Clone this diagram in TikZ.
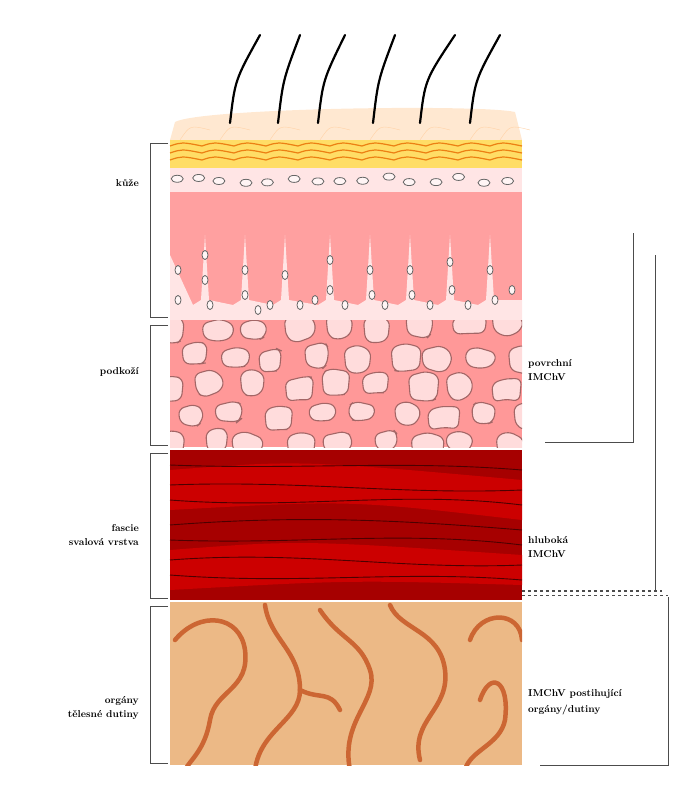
\documentclass[tikz,border=0pt]{standalone}
\usetikzlibrary{calc}
\begin{document}
\begin{tikzpicture}[x=1pt,y=-1pt,
  lbl/.style={font=\bfseries, align=right, anchor=east, inner sep=1pt},
  rlbl/.style={font=\bfseries, align=left, anchor=west, inner sep=1pt},
  brk/.style={draw=black!70, line width=1pt},
  cell/.style={draw=black!60, fill=white!85!pink, line width=0.8pt},
  fat/.style={draw=black!60!red!60, fill=pink!55, line width=1.1pt, rounded corners=6pt}]
\useasboundingbox (0,0) rectangle (697,800);
\pgfmathsetseed{11}
% hair top layer
\fill[orange!18] (170,140) -- (175,122) .. controls (200,108) and (480,104) .. (515,112) -- (522,140) -- cycle;
\foreach \x in {180,220,270,320,370,420,470,500} \draw[orange!35] (\x,140) .. controls (\x+10,125) .. (\x+30,130);
\foreach \x/\t in {230/260,278/300,318/345,373/395,420/455,470/500}
  \draw[line width=2.2pt, line cap=round] (\x,123) .. controls (\x+5,80) .. (\t,35);
% epidermis layers
\fill[orange!45!yellow!60] (170,140) rectangle (522,168);
\foreach \y in {146,153,160} \draw[orange!70!brown, line width=1.2pt] (170,\y) \foreach \i in {0,...,10}{ .. controls (170+\i*32+12,\y-4) .. (170+\i*32+32,\y)};
\fill[pink!40] (170,168) rectangle (522,192);
\foreach \x in {176,198,220,245,268,292,315,338,362,388,410,435,458,482,505}
  \draw[cell] (\x+rand*3,180+rand*4) ellipse (6 and 3.5);
% dermis
\fill[red!25!pink!85] (170,192) rectangle (522,320);
\fill[pink!40] (170,320) -- (170,255) \foreach \x in {205,245,285,330,370,410,450,490} { -- (\x-12,305) -- (\x-4,300) -- (\x,235) -- (\x+4,300)} -- (522,300) -- (522,320) -- cycle;
\foreach \x/\y in {178/270,178/300,205/255,205/280,210/305,245/270,245/295,258/310,270/305,285/275,300/305,315/300,330/260,330/290,345/305,370/270,372/295,385/305,410/270,412/295,430/305,450/262,452/290,468/305,490/270,495/300,512/290}
  \draw[cell] (\x,\y) ellipse (3 and 4.5);
% subcutis
\fill[red!30!pink!85] (170,320) rectangle (522,447);
\begin{scope}
\clip (170,320) rectangle (522,447);
\foreach \r in {0,...,4} \foreach \c in {0,...,8}{
  \pgfmathsetmacro\cx{172+\c*42+mod(\r,2)*20+rand*6}
  \pgfmathsetmacro\cy{328+\r*29+rand*4}
  \pgfmathsetmacro\aw{15+rand*4}
  \pgfmathsetmacro\bw{13+rand*4}
  \pgfmathsetmacro\hh{11+rand*3}
  \pgfmathsetmacro\kk{12+rand*3}
  \pgfmathsetmacro\ja{rand*6}
  \pgfmathsetmacro\jb{rand*5}
  \draw[fat] (\cx-\aw,\cy-\hh+3) -- (\cx+\ja,\cy-\hh-2) -- (\cx+\bw,\cy-\kk+4) -- (\cx+\bw-2,\cy+\kk-3) -- (\cx+\jb,\cy+\hh+1) -- (\cx-\aw+2,\cy+\kk-2) -- cycle;}
\end{scope}
% muscle
\fill[red!65!black] (170,450) rectangle (522,600);
\fill[red!80!black] (170,470) .. controls (300,460) .. (522,480) -- (522,520) .. controls (350,500) .. (170,510) -- cycle;
\fill[red!80!black] (170,550) .. controls (300,540) .. (522,555) -- (522,585) .. controls (350,580) .. (170,590) -- cycle;
\foreach \a/\b/\c in {465/470/460,485/480/495,500/510/490,525/515/520,540/545/530,560/550/570,575/585/570}
  \draw[black!70!red, line width=0.9pt] (170,\a) .. controls (300,\b) and (400,\c) .. (522,\a+5);
% organs
\fill[brown!55!orange!55] (170,602) rectangle (522,765);
\begin{scope}
\clip (170,602) rectangle (522,765);
\tikzset{gut/.style={draw=brown!80!red, line width=4.5pt, line cap=round}}
\draw[gut] (175,640) .. controls (200,610) and (240,615) .. (245,650) .. controls (250,690) and (215,690) .. (210,720) .. controls (205,750) and (190,760) .. (185,770);
\draw[gut] (265,605) .. controls (270,640) and (300,650) .. (300,690) .. controls (300,720) and (260,730) .. (255,770);
\draw[gut] (320,610) .. controls (340,640) and (360,640) .. (370,670) .. controls (380,700) and (340,720) .. (350,770);
\draw[gut] (390,605) .. controls (400,630) and (440,630) .. (445,670) .. controls (450,710) and (410,720) .. (420,760);
\draw[gut] (470,640) .. controls (480,610) and (520,610) .. (522,640);
\draw[gut] (480,700) .. controls (490,670) and (510,680) .. (505,720) .. controls (500,745) and (470,750) .. (465,770);
\draw[gut] (300,690) .. controls (320,700) and (330,690) .. (340,710);
\end{scope}
% left brackets
\draw[brk] (168,143) -| (150,317) -- (168,317);
\draw[brk] (168,325) -| (150,445) -- (168,445);
\draw[brk] (168,453) -| (150,598) -- (168,598);
\draw[brk] (168,606) -| (150,763) -- (168,763);
\node[lbl] (kuze) at (140,183) {kůže};
\node[lbl] (podkozi) at (140,372) {podkoží};
\node[lbl] (fascie) at (140,535) {fascie\\[2pt]svalová vrstva};
\node[lbl] (organy) at (140,708) {orgány\\[2pt]tělesné dutiny};
% right brackets
\draw[brk] (633,233) -- (633,442) -- (545,442);
\draw[brk] (655,255) -- (655,591);
\draw[brk, dashed, line width=1.2pt] (522,591) -- (662,591);
\draw[brk, dashed] (522,595) -- (668,595);
\draw[brk] (668,597) -- (668,765) -- (540,765);
\node[rlbl] (povrch) at (527,370) {povrchní\\[2pt]IMChV};
\node[rlbl] (hlub) at (527,547) {hluboká\\[2pt]IMChV};
\node[rlbl] (post) at (527,702) {IMChV postihující\\[4pt]orgány/dutiny};
\end{tikzpicture}
\end{document}
